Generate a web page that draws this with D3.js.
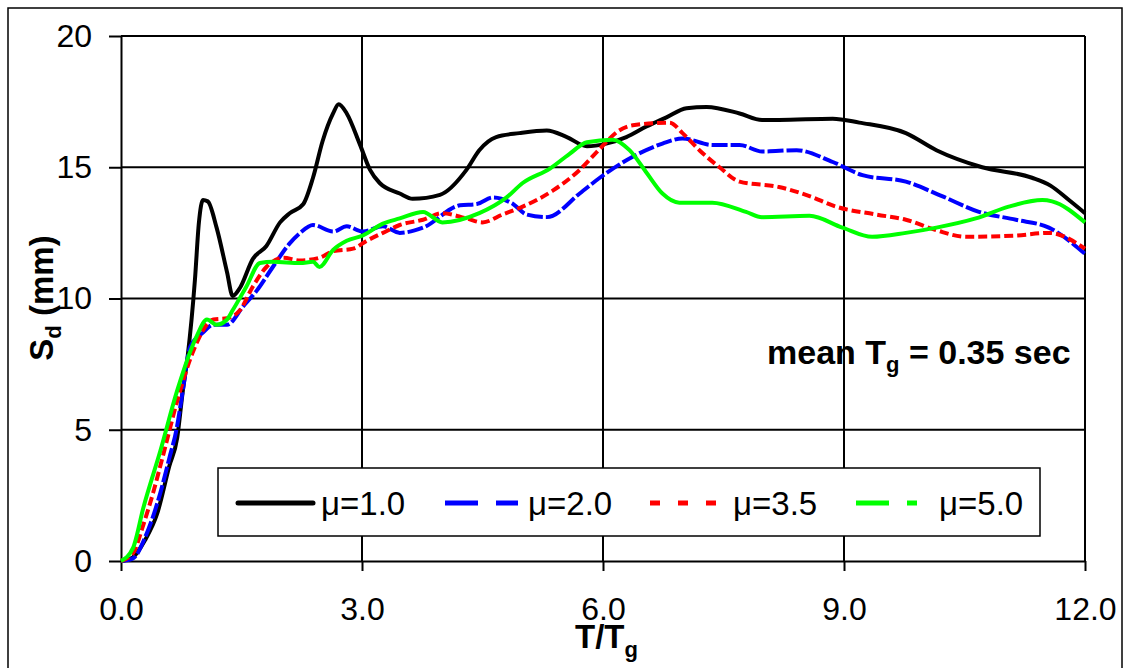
<!DOCTYPE html>
<html><head><meta charset="utf-8">
<script src="https://cdn.jsdelivr.net/npm/d3@7"></script>
<style>body{margin:0;background:#fff}svg{display:block;font-family:"Liberation Sans",Arial,sans-serif}</style>
</head><body>
<script>
const xTicks = [0, 3, 6, 9, 12];
const yTicks = [0, 5, 10, 15, 20];
const seriesNames = ["μ=1.0", "μ=2.0", "μ=3.5", "μ=5.0"];
const seriesColors = ["#000000", "#0000ff", "#ff0000", "#00ff00"];

const tBlack = [0,0.15,0.3,0.45,0.6,0.7,0.77,0.83,0.92,0.97,1.02,1.08,1.19,1.32,1.39,1.48,1.64,1.81,1.98,2.1,2.27,2.39,2.51,2.64,2.71,2.81,2.97,3.1,3.22,3.47,3.63,3.97,4.3,4.46,4.67,4.96,5.3,5.55,5.8,6.04,6.29,6.54,6.79,7.04,7.29,7.7,7.98,8.19,8.86,9.19,9.77,10.15,10.72,11.34,11.57,11.8,12];
const sBlack = [0,0.15,0.8,1.8,3.6,4.7,6.5,7.8,10.7,12.9,13.75,13.7,12.7,11.0,10.1,10.4,11.5,12.0,12.9,13.25,13.6,14.6,16.0,17.05,17.4,17.05,15.9,14.9,14.4,14.0,13.8,13.95,14.9,15.65,16.15,16.3,16.4,16.15,15.8,15.9,16.15,16.55,16.9,17.25,17.3,17.05,16.8,16.8,16.85,16.7,16.3,15.65,15.0,14.6,14.3,13.75,13.25];

const tBlue = [0,0.15,0.3,0.49,0.6,0.69,0.77,0.86,1.02,1.15,1.32,1.52,1.69,1.89,2.1,2.23,2.39,2.64,2.81,3.01,3.26,3.47,3.76,4.22,4.43,4.63,4.88,5.05,5.3,5.71,5.96,6.37,6.74,6.99,7.36,7.7,7.98,8.41,8.86,9.23,9.77,10.22,10.68,11.14,11.55,12];
const sBlue = [0,0.1,0.9,2.6,3.9,5.0,6.5,8.15,8.7,9.0,9.0,9.7,10.3,11.2,12.1,12.5,12.8,12.55,12.75,12.55,12.75,12.5,12.7,13.55,13.6,13.85,13.6,13.2,13.1,14.0,14.6,15.4,15.9,16.1,15.85,15.85,15.6,15.65,15.2,14.7,14.45,13.9,13.3,13.0,12.7,11.7];

const tRed = [0,0.15,0.28,0.4,0.53,0.7,0.9,1.15,1.32,1.48,1.64,1.81,2.02,2.23,2.47,2.64,2.89,3.06,3.26,3.47,3.76,4.0,4.3,4.5,4.75,5.0,5.37,5.71,5.96,6.2,6.37,6.83,6.99,7.2,7.45,7.7,8.19,8.57,8.9,9.4,9.77,10.15,10.52,11.14,11.55,12];
const sRed = [0,0.3,1.4,2.6,4.1,6.1,8.0,9.2,9.25,9.55,10.45,11.2,11.55,11.45,11.55,11.8,11.9,12.2,12.5,12.8,13.0,13.25,13.05,12.9,13.2,13.5,14.1,14.9,15.7,16.4,16.6,16.7,16.3,15.65,15.0,14.45,14.25,13.9,13.5,13.2,13.0,12.6,12.35,12.4,12.5,11.9];

const tGreen = [0,0.15,0.28,0.49,0.7,0.94,1.07,1.19,1.32,1.39,1.56,1.73,1.89,2.23,2.39,2.47,2.64,2.81,3.01,3.26,3.47,3.76,4.0,4.46,4.8,5.0,5.34,5.58,5.8,6.12,6.33,6.54,6.74,6.95,7.36,7.78,7.98,8.57,8.98,9.35,9.77,10.15,10.64,11.05,11.47,11.59,12];
const sGreen = [0,0.5,2.05,4.2,6.5,8.55,9.2,9.0,9.2,9.55,10.45,11.35,11.4,11.35,11.4,11.2,11.85,12.2,12.4,12.85,13.05,13.3,12.9,13.25,13.85,14.4,14.95,15.5,15.95,16.05,15.65,14.8,14.0,13.65,13.65,13.3,13.1,13.15,12.7,12.35,12.5,12.7,13.05,13.5,13.75,13.7,12.9];

const W = 1127, H = 668;
const svg = d3.select("body").append("svg").attr("width", W).attr("height", H);

svg.append("rect").attr("x", 8).attr("y", 8).attr("width", 1114).attr("height", 720)
  .attr("fill", "none").attr("stroke", "#000").attr("stroke-width", 1.5);

const x = d3.scaleLinear().domain([0, 12]).range([121, 1085]);
const y = d3.scaleLinear().domain([0, 20]).range([561, 36]);

// grid
svg.append("g").selectAll("line").data(yTicks.filter(d => d > 0)).join("line")
  .attr("x1", x(0)).attr("x2", x(12)).attr("y1", d => y(d)).attr("y2", d => y(d))
  .attr("stroke", "#000").attr("stroke-width", 2);
svg.append("g").selectAll("line").data(xTicks.filter(d => d > 0)).join("line")
  .attr("y1", y(0)).attr("y2", y(20)).attr("x1", d => x(d)).attr("x2", d => x(d))
  .attr("stroke", "#000").attr("stroke-width", 2);

// axes
const yAxis = svg.append("g").attr("transform", `translate(${x(0)},0)`)
  .call(d3.axisLeft(y).tickValues(yTicks).tickSize(12).tickSizeOuter(0).tickPadding(17).tickFormat(d3.format("d")));
const xAxis = svg.append("g").attr("transform", `translate(0,${y(0)})`)
  .call(d3.axisBottom(x).tickValues(xTicks).tickSize(10).tickSizeOuter(0).tickPadding(26).tickFormat(d3.format(".1f")));
[yAxis, xAxis].forEach(a => {
  a.selectAll("path.domain").attr("stroke", "#000").attr("stroke-width", 2);
  a.selectAll(".tick line").attr("stroke", "#000").attr("stroke-width", 2);
  a.selectAll("text").attr("fill", "#000").attr("font-size", 32).attr("font-family", '"Liberation Sans",Arial,sans-serif');
});

// lines
const line = d3.line().x(d => x(d[0])).y(d => y(d[1])).curve(d3.curveMonotoneX);
const data = [
  d3.zip(tBlack, sBlack), d3.zip(tBlue, sBlue), d3.zip(tRed, sRed), d3.zip(tGreen, sGreen)
];
const plotDash = [null, "16,3", "9,4", null];
data.forEach((d, i) => {
  svg.append("path").datum(d).attr("d", line).attr("fill", "none")
    .attr("stroke", seriesColors[i]).attr("stroke-width", 4)
    .attr("stroke-linejoin", "round")
    .attr("stroke-dasharray", plotDash[i]);
});

// annotation
const ann = svg.append("text").attr("x", 767).attr("y", 364).attr("font-size", 34).attr("font-weight", "bold");
ann.append("tspan").text("mean T");
ann.append("tspan").attr("dy", 8).attr("font-size", 22).text("g");
ann.append("tspan").attr("dy", -8).text(" = 0.35 sec");

// axis titles
const xt = svg.append("text").attr("x", 575).attr("y", 648).attr("font-size", 33).attr("font-weight", "bold");
xt.append("tspan").text("T/T");
xt.append("tspan").attr("dy", 9).attr("font-size", 22).text("g");

const yt = svg.append("text").attr("transform", "translate(53,298) rotate(-90)")
  .attr("text-anchor", "middle").attr("font-size", 33).attr("font-weight", "bold");
yt.append("tspan").text("S");
yt.append("tspan").attr("dy", 8).attr("font-size", 22).text("d");
yt.append("tspan").attr("dy", -8).text(" (mm)");

// legend
svg.append("rect").attr("x", 218).attr("y", 468).attr("width", 822).attr("height", 68)
  .attr("fill", "#fff").attr("stroke", "#000").attr("stroke-width", 1.5);
const legStarts = [238, 445, 650, 856];
const legDash = [null, "33,18", "10,18", "33,18,10,100"];
const legLen = [75, 73, 66, 61];
seriesNames.forEach((n, i) => {
  svg.append("line").attr("x1", legStarts[i]).attr("x2", legStarts[i] + legLen[i])
    .attr("y1", 503).attr("y2", 503).attr("stroke", seriesColors[i]).attr("stroke-width", 5)
    .attr("stroke-linecap", i === 0 ? "round" : "butt")
    .attr("stroke-dasharray", legDash[i]);
  svg.append("text").attr("x", legStarts[i] + 83).attr("y", 515).attr("font-size", 33).text(n);
});
</script>
</body></html>
